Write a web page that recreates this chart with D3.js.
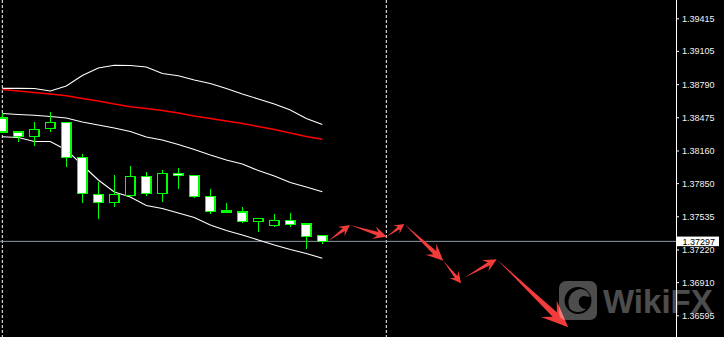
<!DOCTYPE html>
<html><head><meta charset="utf-8">
<script src="https://cdn.jsdelivr.net/npm/d3@7"></script>
<style>html,body{margin:0;padding:0;background:#000;overflow:hidden}</style>
</head><body><svg id="c" width="724" height="337"></svg>
<script>
// ---- data ----
const openP  = [1.38468,1.38335,1.38291,1.38371,1.38428,1.38095,1.37744,1.37668,1.37734,1.37915,1.37753,1.37943,1.37922,1.37725,1.37569,1.37576,1.37486,1.37450,1.37497,1.37462,1.37355];
const closeP = [1.38335,1.38293,1.38361,1.38428,1.38095,1.37753,1.37668,1.37744,1.37915,1.37753,1.37943,1.37922,1.37725,1.37583,1.37585,1.37488,1.37516,1.37497,1.37457,1.37343,1.37297];
const highP  = [1.38516,1.38345,1.38428,1.38525,1.38431,1.38127,1.37864,1.37927,1.38013,1.37956,1.37975,1.37994,1.37924,1.37794,1.37661,1.37623,1.37516,1.37557,1.37566,1.37469,1.37355];
const lowP   = [1.38326,1.38236,1.38205,1.38338,1.38006,1.37664,1.37507,1.37626,1.37721,1.37731,1.37674,1.37791,1.37712,1.37554,1.37562,1.37474,1.37389,1.37436,1.37436,1.37229,1.37275];
const bbUpper  = [1.38750,1.38750,1.38748,1.38725,1.38772,1.38872,1.38943,1.38969,1.38967,1.38953,1.38891,1.38870,1.38829,1.38796,1.38748,1.38696,1.38649,1.38601,1.38544,1.38464,1.38407];
const bbMiddle = [1.38511,1.38502,1.38494,1.38483,1.38468,1.38430,1.38402,1.38373,1.38340,1.38288,1.38260,1.38217,1.38169,1.38117,1.38070,1.38032,1.37970,1.37918,1.37856,1.37813,1.37769];
const bbLower  = [1.38291,1.38283,1.38245,1.38245,1.38165,1.38022,1.37880,1.37766,1.37718,1.37638,1.37609,1.37566,1.37524,1.37452,1.37400,1.37357,1.37310,1.37263,1.37220,1.37182,1.37136];
const maRed    = [1.38739,1.38725,1.38711,1.38696,1.38679,1.38654,1.38630,1.38601,1.38576,1.38559,1.38540,1.38516,1.38487,1.38464,1.38440,1.38416,1.38388,1.38359,1.38326,1.38293,1.38266];
const tickValues = [1.39415,1.39105,1.38790,1.38475,1.38160,1.37850,1.37535,1.37220,1.36910,1.36595];
const currentPrice = 1.37297;
const separators = [0, 24];
// forecast arrows
const arrowFromIdx   = [20.375, 21.73, 24.03, 25.125, 27.56, 28.875, 30.9];
const arrowFromPrice = [1.37300, 1.37452, 1.37341, 1.37462, 1.37113, 1.36952, 1.37127];
const arrowToIdx     = [21.73, 24.03, 25.125, 27.56, 28.67, 30.9, 35.375];
const arrowToPrice   = [1.37452, 1.37341, 1.37462, 1.37113, 1.36899, 1.37127, 1.36481];

// ---- scales ----
const W = 724, H = 337, axisX = 676;
const x = d3.scaleLinear().domain([0, 20]).range([2.3, 322.3]);
const y = d3.scaleLinear().domain([1.36595, 1.39415]).range([315.3, 18.3]);
const svg = d3.select('#c');
svg.append('rect').attr('width', W).attr('height', H).attr('fill', '#000');

// separators
svg.append('g').selectAll('line').data(separators).join('line')
  .attr('x1', d => x(d)).attr('x2', d => x(d)).attr('y1', 0).attr('y2', H)
  .attr('stroke', '#fff').attr('stroke-width', 1).attr('stroke-dasharray', '3,2');

// current price line
svg.append('line').attr('x1', 0).attr('x2', axisX).attr('y1', y(currentPrice)).attr('y2', y(currentPrice))
  .attr('stroke', '#8e98a2').attr('stroke-width', 1);

// indicator lines
const idx = d3.range(openP.length);
const lineGen = arr => d3.line().x(i => x(i)).y(i => y(arr[i]))(idx);
[[bbUpper,'#fff',1.1],[bbMiddle,'#fff',1.1],[bbLower,'#fff',1.1],[maRed,'#ff0000',1.5]].forEach(([arr,c,w]) => {
  svg.append('path').attr('d', lineGen(arr)).attr('fill','none').attr('stroke', c).attr('stroke-width', w);
});

// candles
const green = '#00ff00', bw = 10.7, bs = 1.3;
const cg = svg.append('g').attr('shape-rendering','crispEdges');
idx.forEach(i => {
  const cx = x(i);
  cg.append('rect').attr('x', cx - bs/2).attr('width', bs)
    .attr('y', y(highP[i])).attr('height', Math.max(1, y(lowP[i]) - y(highP[i]))).attr('fill', green);
  const top = y(Math.max(openP[i], closeP[i])), bot = y(Math.min(openP[i], closeP[i]));
  cg.append('rect').attr('x', cx - bw/2).attr('width', bw).attr('y', top - bs/2).attr('height', bot - top + bs).attr('fill', green);
  const ih = bot - top - bs;
  if (ih > 0.3) {
    cg.append('rect').attr('x', cx - bw/2 + bs).attr('width', bw - 2*bs).attr('y', top + bs/2).attr('height', ih)
      .attr('fill', closeP[i] < openP[i] ? '#fff' : '#000');
  }
});

// arrows
function arrowPts(x1, y1, x2, y2) {
  const dx = x2 - x1, dy = y2 - y1, L = Math.hypot(dx, dy);
  const ux = dx / L, uy = dy / L, nx = -uy, ny = ux;
  const hl = Math.min(0.45 * L, 5 + 0.22 * L), hw = 3.4 + 0.08 * L, sw = 1.1 + 0.02 * L;
  const bx = x2 - ux * hl, by = y2 - uy * hl;
  const sx = x2 - ux * hl * 0.7, sy = y2 - uy * hl * 0.7;
  return [[x1, y1], [sx + nx * sw, sy + ny * sw], [bx + nx * hw, by + ny * hw], [x2, y2],
          [bx - nx * hw, by - ny * hw], [sx - nx * sw, sy - ny * sw]];
}
svg.append('g').selectAll('path').data(arrowFromIdx.map((d, i) => i)).join('path')
  .attr('d', i => 'M' + arrowPts(x(arrowFromIdx[i]), y(arrowFromPrice[i]), x(arrowToIdx[i]), y(arrowToPrice[i])).map(p => p.join(',')).join('L') + 'Z')
  .attr('fill', '#f23c3c');

// axis
svg.append('line').attr('x1', axisX + 0.5).attr('x2', axisX + 0.5).attr('y1', 0).attr('y2', H).attr('stroke', '#fff').attr('stroke-width', 1);
const ax = svg.append('g').attr('transform', `translate(${axisX},0)`)
  .call(d3.axisRight(y).tickValues(tickValues).tickFormat(d3.format('.5f')).tickSize(3).tickPadding(3));
ax.select('.domain').remove();
ax.selectAll('line').attr('stroke', '#fff');
ax.selectAll('text').attr('fill', '#f2f2f2').attr('font-family', '"Liberation Sans", Arial, sans-serif').attr('font-size', 9);

// current price label
const cy = y(currentPrice);
svg.append('rect').attr('x', 677).attr('y', cy - 4.8).attr('width', 42).attr('height', 9.6).attr('fill', '#fff');
svg.append('text').attr('x', 682.5).attr('y', cy).attr('dy', '0.35em').text(d3.format('.5f')(currentPrice))
  .attr('fill', '#000').attr('font-family', '"Liberation Sans", Arial, sans-serif').attr('font-size', 9);

// watermark
const wm = svg.append('g').attr('opacity', 0.3);
wm.append('rect').attr('x', 559).attr('y', 281).attr('width', 38).attr('height', 39).attr('rx', 7).attr('fill', '#fff');
wm.append('circle').attr('cx', 578).attr('cy', 300.5).attr('r', 13.5).attr('fill', '#000');
wm.append('path').attr('d', 'M570,309 C566,300 570,291 580,289 C586,289 589,293 590,297 L584,296 C580,296 578,300 579,304 C580,307 583,309 586,309 C582,313 574,313 570,309 Z').attr('fill', '#fff');
wm.append('text').attr('x', 603).attr('y', 312.7).text('WikiFX').attr('fill', '#fff')
  .attr('font-family', '"Liberation Sans", Arial, sans-serif').attr('font-weight', 'bold').attr('font-size', 33);
</script></body></html>
